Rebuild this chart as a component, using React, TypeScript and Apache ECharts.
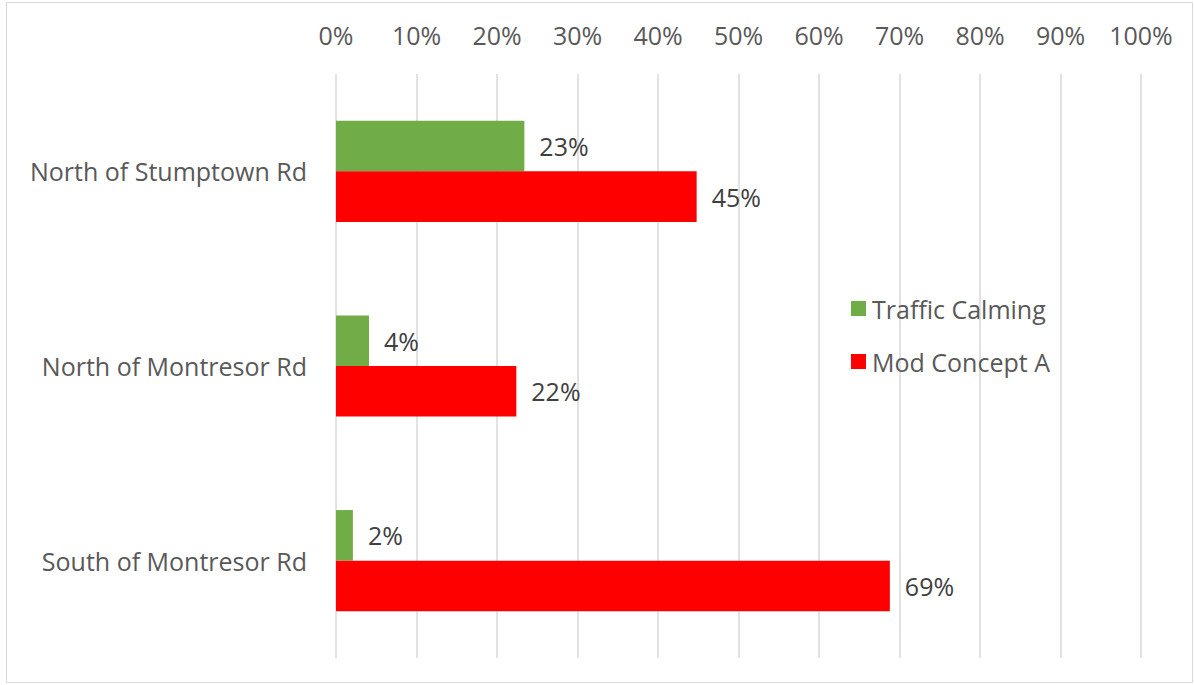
import React, { useEffect, useRef } from "react";
import * as echarts from "echarts";

const categories = ["North of Stumptown Rd", "North of Montresor Rd", "South of Montresor Rd"];
const trafficCalming = [23.4, 4.1, 2.1];
const modConceptA = [44.8, 22.4, 68.8];
const seriesNames = ["Traffic Calming", "Mod Concept A"];

const FONT = "'Open Sans', 'Liberation Sans', sans-serif";
const FS = 25;

export default function App() {
  const ref = useRef<HTMLDivElement>(null);
  useEffect(() => {
    if (!ref.current) return;
    const chart = echarts.init(ref.current, undefined, { renderer: "svg" });
    const labelStyle = {
      show: true,
      position: "right" as const,
      distance: 15,
      color: "#404040",
      fontSize: FS,
      fontFamily: FONT,
      formatter: (p: any) => Math.round(p.value) + "%",
    };
    chart.setOption({
      animation: false,
      backgroundColor: "#ffffff",
      textStyle: { fontFamily: FONT },
      graphic: [
        {
          type: "rect",
          shape: { x: 6.5, y: 2.5, width: 1186, height: 680 },
          style: { fill: "none", stroke: "#d9d9d9", lineWidth: 1 },
          silent: true,
          z: -1,
        },
      ],
      legend: {
        orient: "vertical",
        left: 846,
        top: 291,
        itemWidth: 15,
        itemHeight: 15,
        itemGap: 28,
        icon: "rect",
        textStyle: { color: "#595959", fontSize: FS, fontFamily: FONT, padding: [0, 0, 0, 1] },
        data: seriesNames,
      },
      grid: { left: 336, right: 53, top: 74, bottom: 27, containLabel: false },
      xAxis: {
        type: "value",
        position: "top",
        min: 0,
        max: 100,
        interval: 10,
        axisLine: { show: false },
        axisTick: { show: false },
        axisLabel: {
          formatter: "{value}%",
          color: "#595959",
          fontSize: FS,
          fontFamily: FONT,
          margin: 27,
        },
        splitLine: { show: true, lineStyle: { color: "#d9d9d9", width: 1.5 } },
      },
      yAxis: {
        type: "category",
        inverse: true,
        data: categories,
        axisLine: { show: false },
        axisTick: { show: false },
        axisLabel: { color: "#595959", fontSize: FS, fontFamily: FONT, margin: 29 },
      },
      series: [
        {
          name: seriesNames[0],
          type: "bar",
          data: trafficCalming,
          itemStyle: { color: "#70AD47" },
          barGap: "0%",
          barCategoryGap: "48%",
          label: labelStyle,
        },
        {
          name: seriesNames[1],
          type: "bar",
          data: modConceptA,
          itemStyle: { color: "#FF0000" },
          barGap: "0%",
          barCategoryGap: "48%",
          label: labelStyle,
        },
      ],
    });
    return () => chart.dispose();
  }, []);
  return (
    <div
      ref={ref}
      style={{ position: "fixed", left: 0, top: 0, width: 1194, height: 685 }}
    />
  );
}
